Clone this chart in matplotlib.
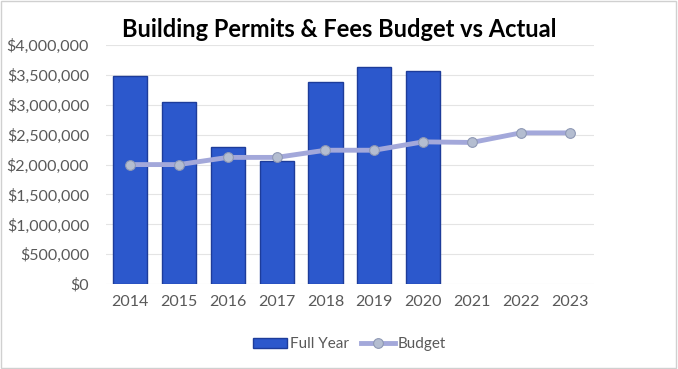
import matplotlib
matplotlib.use("Agg")
import matplotlib.pyplot as plt
from matplotlib.ticker import FuncFormatter, MultipleLocator

years = ["2014", "2015", "2016", "2017", "2018", "2019", "2020", "2021", "2022", "2023"]
full_year = [3480000, 3050000, 2290000, 2060000, 3380000, 3640000, 3560000]
budget = [2000000, 2000000, 2120000, 2120000, 2240000, 2240000, 2380000, 2370000, 2530000, 2530000]

plt.rcParams['font.family'] = ['Lato', 'DejaVu Sans']

fig = plt.figure(figsize=(6.78, 3.69), dpi=100)
fig.patch.set_facecolor('white')
ax = fig.add_axes([0.156, 0.23, 0.72, 0.648])

x = list(range(len(years)))
bars = ax.bar(x[:len(full_year)], full_year, width=0.7, color='#2C58CC', edgecolor='#1D3C9A',
              linewidth=1.0, label='Full Year', zorder=2)
line, = ax.plot(x, budget, color='#A3A8DA', linewidth=3.5, marker='o', markersize=7,
                markerfacecolor='#B4BDD0', markeredgecolor='#8E98B5', markeredgewidth=0.8,
                label='Budget', zorder=3)

ax.set_ylim(0, 4000000)
ax.set_xlim(-0.5, len(years) - 0.5)
ax.yaxis.set_major_locator(MultipleLocator(500000))
ax.yaxis.set_major_formatter(FuncFormatter(lambda v, p: f"${v:,.0f}"))
ax.set_xticks(x)
ax.set_xticklabels(years)
ax.grid(axis='y', color='#E4E4E4', linewidth=0.8, zorder=0)
ax.set_axisbelow(True)
for s in ax.spines.values():
    s.set_visible(False)
ax.tick_params(axis='both', length=0, labelsize=11.5, colors='#595959', pad=8)
ax.tick_params(axis='y', pad=12)

fig.suptitle("Building Permits & Fees Budget vs Actual", x=0.5, y=0.95,
             fontsize=17, fontweight='bold', color='black')

ax.legend([bars, line], ['Full Year', 'Budget'], loc='upper center',
          bbox_to_anchor=(0.5, -0.165), ncol=2, frameon=False,
          fontsize=11, labelcolor='#595959', handlelength=2.2, columnspacing=0.8,
          handletextpad=0.2)

border = plt.Rectangle((0.002, 0.003), 0.995, 0.993, transform=fig.transFigure,
                       fill=False, edgecolor='#D0D0D0', linewidth=1)
fig.patches.append(border)

fig.savefig("out.png", dpi=100)
